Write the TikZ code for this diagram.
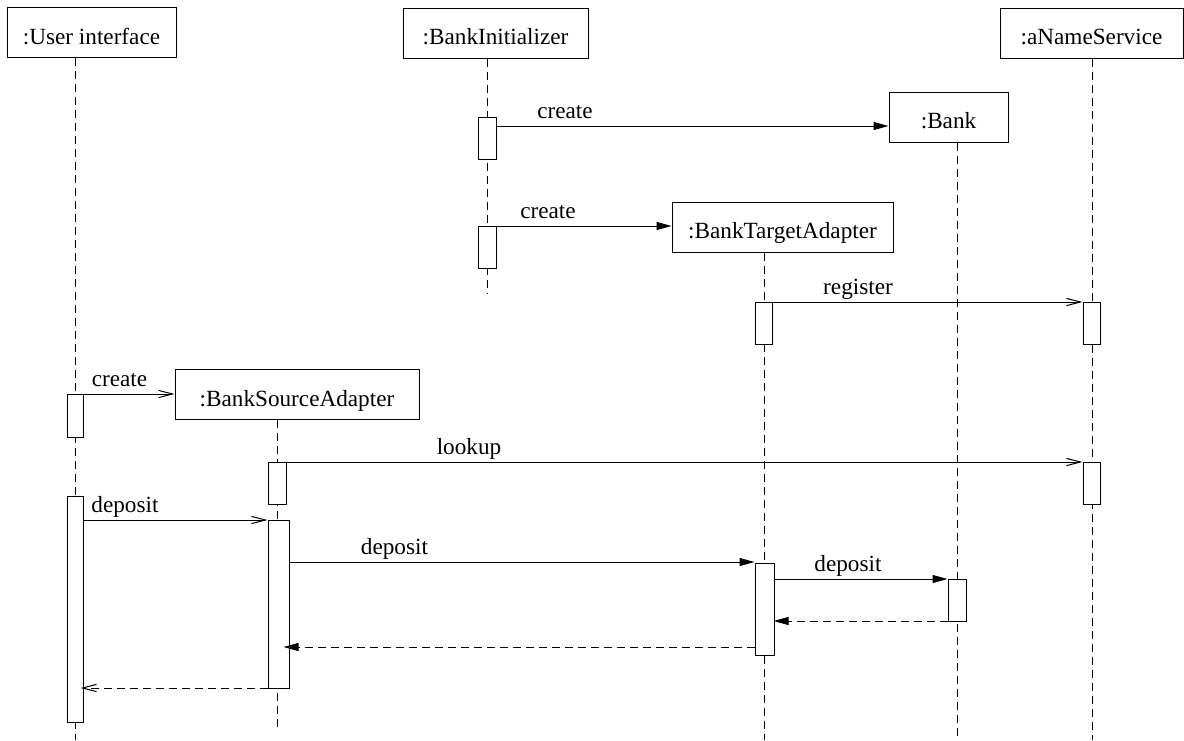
\documentclass[tikz,border=0pt]{standalone}
\usepackage{fontspec}
\setmainfont{Liberation Serif}
\usetikzlibrary{arrows.meta}
\begin{document}
\begin{tikzpicture}[x=0.5pt,y=-0.5pt,
  font=\fontsize{11.6pt}{14pt}\selectfont,
  line width=0.5pt,
  obj/.style={draw, fill=white, inner sep=0pt, text height=12pt, text depth=0.5pt, minimum height=25pt},
  act/.style={draw, fill=white, inner sep=0pt},
  life/.style={dash pattern=on 4pt off 2.5pt},
  ret/.style={dash pattern=on 4pt off 2.5pt},
  call/.style={-{Triangle[length=7.5pt,width=4pt]}},
  async/.style={-{Straight Barb[length=7pt,width=3.6pt]}},
  msg/.style={anchor=base, inner sep=0pt}]
\useasboundingbox (0,0) rectangle (1184,740);

% objects
\node[obj, minimum width=84.5pt]  (ui)   at (91.5,32.5)  {:User interface};
\node[obj, minimum width=92.5pt]  (bi)   at (495.5,33)   {:BankInitializer};
\node[obj, minimum width=91.5pt]  (ns)   at (1091.5,33)  {:aNameService};
\node[obj, minimum width=59.5pt]  (bank) at (948.5,117)  {:Bank};
\node[obj, minimum width=110.5pt] (bta)  at (782.5,227)  {:BankTargetAdapter};
\node[obj, minimum width=122pt]   (bsa)  at (297,394.5)  {:BankSourceAdapter};

% lifeline ends
\coordinate (uiend)   at (75,740);
\coordinate (biend)   at (487,293);
\coordinate (nsend)   at (1092,740);
\coordinate (bankend) at (957,740);
\coordinate (btaend)  at (764,740);
\coordinate (bsaend)  at (277,730);

\draw[life] (ui.south -| uiend) -- (uiend);
\draw[life] (bi.south -| biend) -- (biend);
\draw[life] (ns.south -| nsend) -- (nsend);
\draw[life] (bank.south -| bankend) -- (bankend);
\draw[life] (bta.south -| btaend) -- (btaend);
\draw[life] (bsa.south -| bsaend) -- (bsaend);

% activations
\node[act, minimum width=9pt,   minimum height=21pt]   (bi1)   at (487,138)    {};
\node[act, minimum width=9pt,   minimum height=21pt]   (bi2)   at (487,247)    {};
\node[act, minimum width=8.5pt, minimum height=21pt]   (bta1)  at (763.5,323)  {};
\node[act, minimum width=8.5pt, minimum height=21pt]   (ns1)   at (1091.5,323) {};
\node[act, minimum width=8pt,   minimum height=21.5pt] (ui1)   at (75,415.5)   {};
\node[act, minimum width=9pt,   minimum height=21pt]   (bsa1)  at (277,483)    {};
\node[act, minimum width=8.5pt, minimum height=21pt]   (ns2)   at (1091.5,483) {};
\node[act, minimum width=8pt,   minimum height=113pt]  (ui2)   at (75,609)     {};
\node[act, minimum width=10.5pt,minimum height=84pt]   (bsa2)  at (278.5,604)  {};
\node[act, minimum width=9.5pt, minimum height=46pt]   (bta2)  at (764.5,609)  {};
\node[act, minimum width=9pt,   minimum height=21pt]   (bank1) at (957,600)    {};

% message levels
\coordinate (m1)  at (0,126);
\coordinate (m2)  at (0,226);
\coordinate (m3)  at (0,302);
\coordinate (m4)  at (0,394);
\coordinate (m5)  at (0,462);
\coordinate (m6)  at (0,520);
\coordinate (m7)  at (0,562);
\coordinate (m8)  at (0,579);
\coordinate (m9)  at (0,621);
\coordinate (m10) at (0,647);
\coordinate (m11) at (0,688);

% messages
\draw[call]  (bi1.east |- m1)  -- (bank.west |- m1);
\draw[call]  (bi2.east |- m2)  -- (bta.west |- m2);
\draw[async] (bta1.east |- m3) -- (ns1.west |- m3);
\draw[async] (ui1.east |- m4)  -- (bsa.west |- m4);
\draw[async] (bsa1.east |- m5) -- (ns2.west |- m5);
\draw[async] (ui2.east |- m6)  -- (bsa2.west |- m6);
\draw[call]  (bsa2.east |- m7) -- (bta2.west |- m7);
\draw[call]  (bta2.east |- m8) -- (bank1.west |- m8);
\draw[call, ret, shorten >=-0.5pt] (bank1.west |- m9)  -- (bta2.east |- m9);
\draw[call, ret, shorten >=-3pt]   (bta2.west |- m10)  -- (bsa2.east |- m10);
\draw[async, ret, shorten >=-1.5pt] (bsa2.west |- m11) -- (ui2.east |- m11);

% message labels
\node[msg] (l1) at (565,118)   {create};
\node[msg] (l2) at (548,218)   {create};
\node[msg] (l3) at (858,294)   {register};
\node[msg] (l4) at (119.5,386) {create};
\node[msg] (l5) at (469,454)   {lookup};
\node[msg] (l6) at (125,512)   {deposit};
\node[msg] (l7) at (394.5,554) {deposit};
\node[msg] (l8) at (848,571)   {deposit};
\end{tikzpicture}
\end{document}
